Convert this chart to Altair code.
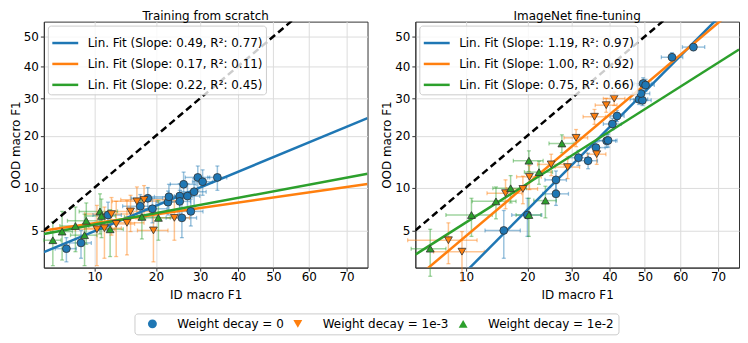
import altair as alt
import pandas as pd
from statistics import NormalDist

ND = NormalDist()


def probit(p):
    return ND.inv_cdf(p / 100.0)


GROUPS = ["Weight decay = 0", "Weight decay = 1e-3", "Weight decay = 1e-2"]
COLORS = ["#1f77b4", "#ff7f0e", "#2ca02c"]
SHAPES = ["circle", "triangle-down", "triangle-up"]
X_TICKS = [10, 20, 30, 40, 50, 60, 70]
Y_TICKS = [5, 10, 20, 30, 40, 50]
X_LIMITS = [5, 75]
Y_LIMITS = [2.5, 55]
TITLES = ["Training from scratch", "ImageNet fine-tuning"]

# ---------------- Training from scratch ----------------
s0_id = [6.9, 8.4, 11.8, 17.0, 18.4, 19.3, 22.5, 22.7, 25.1, 25.1, 25.6, 26.0, 26.9, 27.7, 28.5, 29.4, 30.6, 34.4]
s0_ood = [3.6, 4.0, 6.5, 7.5, 8.5, 7.2, 8.0, 8.7, 8.8, 8.1, 6.2, 10.5, 8.8, 6.9, 9.4, 11.6, 10.9, 11.6]
s0_xerr = [1.0, 1.2, 2.0, 3.0, 3.0, 3.0, 2.5, 3.0, 3.0, 2.5, 3.5, 3.0, 3.0, 3.0, 3.0, 3.0, 2.5, 2.5]
s0_yerr = [0.8, 1.0, 1.5, 1.5, 1.5, 1.5, 1.5, 1.8, 1.8, 1.5, 1.8, 2.0, 1.8, 1.5, 2.0, 2.0, 2.0, 2.0]

s1_id = [10.3, 11.3, 12.3, 13.0, 14.7, 15.3, 16.4, 17.7, 19.5, 23.9]
s1_ood = [5.1, 5.2, 6.6, 5.6, 5.7, 6.9, 8.1, 8.3, 5.0, 6.2]
s1_xerr = [2.5, 2.5, 3.5, 3.0, 3.0, 3.5, 4.0, 4.0, 3.0, 3.5]
s1_yerr = [2.5, 2.2, 2.0, 2.5, 2.5, 2.0, 2.0, 2.0, 2.2, 2.0]

s2_id = [5.7, 6.5, 7.8, 8.8, 9.0, 10.7, 10.9, 12.1, 17.3, 20.5]
s2_ood = [4.2, 4.9, 5.4, 4.6, 5.9, 6.9, 6.4, 5.1, 6.3, 6.2]
s2_xerr = [0.7, 1.0, 1.5, 1.5, 2.0, 2.5, 2.0, 2.0, 3.0, 2.5]
s2_yerr = [1.6, 2.0, 2.0, 2.0, 2.0, 2.2, 2.0, 2.0, 2.0, 2.0]

s_slopes = [0.49, 0.17, 0.22]
s_r2 = [0.77, 0.11, 0.45]
s_intercepts = [-1.023, -1.366, -1.313]

# ---------------- ImageNet fine-tuning ----------------
f0_id = [15.6, 20.0, 26.2, 26.2, 31.7, 34.2, 36.3, 39.2, 39.6, 40.8, 42.1, 48.3, 49.3, 48.9, 49.5, 50.2, 57.7, 63.6]
f0_ood = [5.0, 6.5, 11.2, 9.1, 15.2, 14.6, 17.3, 18.8, 18.9, 22.9, 25.0, 29.7, 29.4, 31.4, 34.5, 34.0, 43.0, 46.4]
f0_xerr = [3.0, 3.0, 2.5, 3.0, 2.5, 2.5, 2.5, 2.5, 2.5, 2.5, 2.0, 2.5, 2.5, 2.5, 2.5, 2.5, 3.0, 3.0]
f0_yerr = [2.0, 2.0, 1.5, 1.5, 1.5, 1.5, 1.5, 1.5, 1.5, 1.5, 1.5, 1.5, 1.5, 1.5, 1.8, 1.8, 1.5, 1.2]

f1_id = [7.96, 9.5, 15.9, 19.1, 20.4, 25.1, 29.0, 31.1, 36.5, 35.9, 39.1, 41.3]
f1_ood = [4.2, 3.4, 9.2, 9.8, 11.7, 13.9, 13.4, 19.5, 15.9, 24.8, 28.0, 29.9]
f1_xerr = [3.5, 3.0, 3.0, 3.0, 2.5, 3.0, 3.0, 3.0, 2.5, 3.0, 3.0, 3.0]
f1_yerr = [1.5, 1.5, 2.0, 2.0, 2.0, 2.0, 2.0, 2.0, 2.0, 2.0, 2.0, 2.0]

f2_id = [6.2, 10.7, 14.3, 16.8, 20.3, 20.3, 22.4, 23.8, 27.6]
f2_ood = [3.6, 6.5, 8.1, 9.9, 6.5, 14.6, 12.5, 8.2, 18.2]
f2_xerr = [1.5, 3.0, 3.5, 3.0, 2.5, 3.0, 3.0, 2.5, 3.0]
f2_yerr = [1.5, 2.0, 2.0, 2.0, 2.0, 2.0, 2.0, 2.0, 2.0]

f_slopes = [1.19, 1.00, 0.75]
f_r2 = [0.97, 0.92, 0.66]
f_intercepts = [-0.468, -0.41, -0.616]


def points_frame(series):
    rows = []
    for g, (ids, oods, xe, ye) in zip(GROUPS, series):
        for a, b, c, d in zip(ids, oods, xe, ye):
            rows.append({"group": g, "id": a, "ood": b, "xerr": c, "yerr": d})
    return pd.DataFrame(rows)


def fit_frame(slopes, r2s, intercepts):
    rows = []
    labels = []
    for s, r, b in zip(slopes, r2s, intercepts):
        lab = f"Lin. Fit (Slope: {s:.2f}, R\u00b2: {r:.2f})"
        labels.append(lab)
        for xq in X_LIMITS:
            rows.append({"label": lab, "slope": s, "intercept": b, "xq": xq})
    return pd.DataFrame(rows), labels


LABEL_EXPR = "format(cumulativeNormal(datum.value) * 100, '.0f')"
XSCALE = alt.Scale(domain=[probit(X_LIMITS[0]), probit(X_LIMITS[1])], nice=False, zero=False)
YSCALE = alt.Scale(domain=[probit(Y_LIMITS[0]), probit(Y_LIMITS[1])], nice=False, zero=False)
XAXIS = alt.Axis(title="ID macro F1", values=[probit(v) for v in X_TICKS], labelExpr=LABEL_EXPR,
                 labelOverlap=False, labelPadding=0, titlePadding=8)
YAXIS = alt.Axis(title="OOD macro F1", values=[probit(v) for v in Y_TICKS], labelExpr=LABEL_EXPR,
                 labelOverlap=False, labelPadding=2, titlePadding=1)


def X(f):
    return alt.X(f, type="quantitative", scale=XSCALE, axis=XAXIS)


def Y(f):
    return alt.Y(f, type="quantitative", scale=YSCALE, axis=YAXIS)


POINT_LEGEND = alt.Legend(
    orient="none", legendX=91, legendY=293, direction="horizontal", title=None,
    padding=4, symbolOffset=8, labelOffset=19, columnPadding=-8,
    strokeColor="#cccccc", cornerRadius=3, fillColor="white",
    symbolSize=80, symbolStrokeColor="#333333", symbolStrokeWidth=0.8,
    labelFont="DejaVu Sans", labelFontSize=12, labelLimit=300,
)


def panel(title, series, slopes, r2s, intercepts, show_point_legend):
    pts = points_frame(series)
    fits, labels = fit_frame(slopes, r2s, intercepts)

    base = alt.Chart(pts).transform_calculate(
        xp="quantileNormal(datum.id / 100)",
        yp="quantileNormal(datum.ood / 100)",
        xlo="quantileNormal((datum.id - datum.xerr) / 100)",
        xhi="quantileNormal((datum.id + datum.xerr) / 100)",
        ylo="quantileNormal((datum.ood - datum.yerr) / 100)",
        yhi="quantileNormal((datum.ood + datum.yerr) / 100)",
    )
    ecol = alt.Color("group:N", scale=alt.Scale(domain=GROUPS, range=COLORS), legend=None)

    hbar = base.mark_rule(opacity=0.45, strokeWidth=1.5).encode(
        x=X("xlo"), x2="xhi:Q", y=Y("yp"), color=ecol)
    vbar = base.mark_rule(opacity=0.45, strokeWidth=1.5).encode(
        x=X("xp"), y=Y("ylo"), y2="yhi:Q", color=ecol)
    hcap = base.transform_fold(["xlo", "xhi"], as_=["end", "xc"]).mark_tick(
        orient="vertical", size=4, thickness=1.3, opacity=0.45).encode(
        x=X("xc"), y=Y("yp"), color=ecol)
    vcap = base.transform_fold(["ylo", "yhi"], as_=["end", "yc"]).mark_tick(
        orient="horizontal", size=4, thickness=1.3, opacity=0.45).encode(
        x=X("xp"), y=Y("yc"), color=ecol)

    lines = alt.Chart(fits).transform_calculate(
        xp="quantileNormal(datum.xq / 100)",
        yp="datum.slope * datum.xp + datum.intercept",
    ).mark_line(strokeWidth=2.5, clip=True).encode(
        x=X("xp"), y=Y("yp"), order="xq:Q",
        stroke=alt.Stroke(
            "label:N", scale=alt.Scale(domain=labels, range=COLORS),
            legend=alt.Legend(
                orient="top-left", title=None, offset=4, padding=3,
                symbolType="stroke", symbolSize=676, symbolStrokeWidth=2.5,
                rowPadding=-9, labelOffset=8,
                fillColor="rgba(255,255,255,0.8)", strokeColor="#cccccc", cornerRadius=3,
                labelFont="DejaVu Sans", labelFontSize=12, labelLimit=400,
            ),
        ),
    )

    diag = alt.Chart(pd.DataFrame({"xq": X_LIMITS})).transform_calculate(
        xp="quantileNormal(datum.xq / 100)", yp="datum.xp"
    ).mark_line(color="black", strokeDash=[7, 4], strokeWidth=2.5, clip=True).encode(
        x=X("xp"), y=Y("yp"))

    leg = POINT_LEGEND if show_point_legend else None
    points = base.mark_point(filled=True, size=62, opacity=1, stroke="#333333", strokeWidth=0.8).encode(
        x=X("xp"), y=Y("yp"),
        fill=alt.Fill("group:N", scale=alt.Scale(domain=GROUPS, range=COLORS), legend=leg),
        shape=alt.Shape("group:N", scale=alt.Scale(domain=GROUPS, range=SHAPES), legend=leg),
    )

    return alt.layer(hbar, vbar, hcap, vcap, lines, diag, points).properties(
        width=325, height=247, title=alt.TitleParams(title))


left = panel(TITLES[0], [(s0_id, s0_ood, s0_xerr, s0_yerr), (s1_id, s1_ood, s1_xerr, s1_yerr),
                         (s2_id, s2_ood, s2_xerr, s2_yerr)], s_slopes, s_r2, s_intercepts, True)
right = panel(TITLES[1], [(f0_id, f0_ood, f0_xerr, f0_yerr), (f1_id, f1_ood, f1_xerr, f1_yerr),
                          (f2_id, f2_ood, f2_xerr, f2_yerr)], f_slopes, f_r2, f_intercepts, False)

chart = alt.hconcat(left, right, spacing=48, bounds="flush").resolve_scale(
    stroke="independent", fill="independent", shape="independent"
).resolve_legend(stroke="independent", fill="independent", shape="independent").properties(
    padding={"left": 0, "top": 0, "right": 0, "bottom": 0}
).configure_view(
    stroke="#333333", strokeWidth=1
).configure_axis(
    labelFont="DejaVu Sans", labelFontSize=12, labelColor="black",
    titleFont="DejaVu Sans", titleFontSize=12, titleFontWeight="normal", titleColor="black",
    tickColor="#333333", tickSize=3.5, tickWidth=1, domainColor="#333333", domainWidth=1,
    gridColor="#dcdcdc", gridWidth=1,
).configure_title(
    font="DejaVu Sans", fontSize=12, fontWeight="normal", color="black", offset=-1
).configure_legend(
    labelFont="DejaVu Sans", labelFontSize=12, labelColor="black"
)

chart.save("out.html", embed_options={"renderer": "svg", "actions": False})
